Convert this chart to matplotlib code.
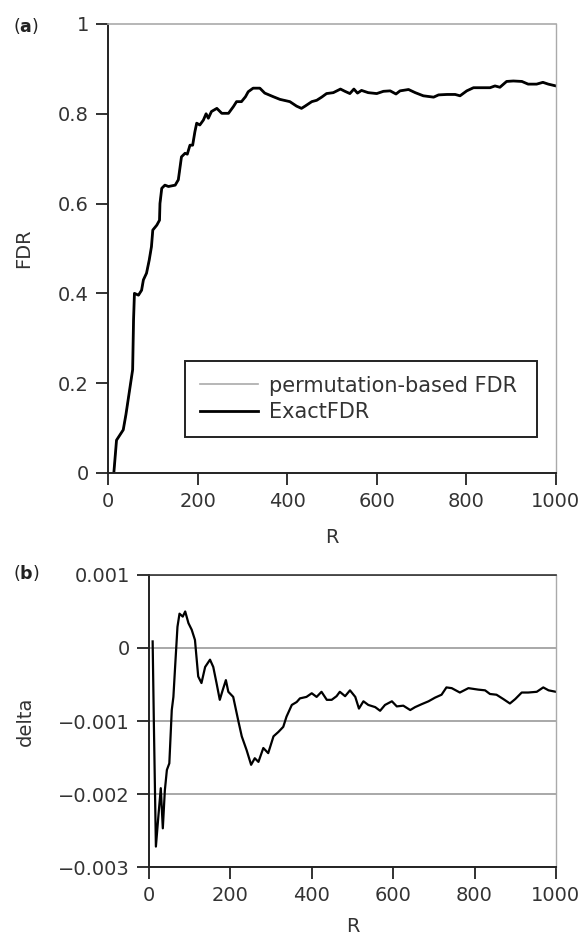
import matplotlib.pyplot as plt

# (a) FDR versus R
r_fdr = [13, 19, 34, 40, 49, 55, 57, 59, 68, 75, 79, 86, 92, 97, 100, 109, 115,
         116, 120, 127, 135, 150, 157, 164, 172, 177, 183, 189, 194, 198, 205,
         213, 219, 224, 231, 243, 254, 269, 280, 287, 298, 307, 313, 324, 339,
         350, 369, 384, 406, 421, 432, 440, 455, 466, 477, 488, 503, 519, 529,
         540, 549, 557, 566, 581, 600, 615, 630, 643, 652, 671, 686, 704, 727,
         738, 757, 775, 786, 801, 816, 838, 853, 864, 875, 890, 905, 924, 938,
         957, 971, 983, 1000]
exact_fdr = [0.0, 0.073, 0.096, 0.13, 0.19, 0.23, 0.34, 0.40, 0.396, 0.407,
             0.43, 0.445, 0.474, 0.504, 0.541, 0.552, 0.563, 0.60, 0.634, 0.641,
             0.638, 0.641, 0.653, 0.704, 0.712, 0.71, 0.73, 0.73, 0.76, 0.779,
             0.775, 0.786, 0.80, 0.79, 0.805, 0.812, 0.801, 0.801, 0.816, 0.827,
             0.827, 0.838, 0.849, 0.857, 0.857, 0.846, 0.838, 0.832, 0.827,
             0.817, 0.812, 0.817, 0.827, 0.83, 0.837, 0.845, 0.847, 0.855, 0.85,
             0.845, 0.855, 0.846, 0.852, 0.847, 0.845, 0.85, 0.851, 0.844, 0.851,
             0.854, 0.847, 0.84, 0.837, 0.842, 0.843, 0.843, 0.84, 0.851, 0.858,
             0.858, 0.858, 0.862, 0.859, 0.872, 0.873, 0.872, 0.866, 0.866, 0.87,
             0.866, 0.862]
# permutation-based FDR lies under ExactFDR at this scale
perm_fdr = exact_fdr

# (b) delta versus R
r_delta = [9, 12, 17, 23, 29, 34, 39, 44, 50, 56, 60, 64, 70, 75, 83, 89, 97,
           105, 113, 121, 129, 138, 150, 158, 166, 174, 181, 189, 195, 207, 220,
           228, 240, 251, 260, 269, 281, 293, 306, 318, 330, 338, 351, 363, 371,
           387, 400, 412, 424, 437, 449, 461, 469, 482, 494, 507, 516, 527, 539,
           556, 568, 580, 597, 609, 625, 642, 654, 670, 687, 703, 719, 731, 744,
           764, 785, 809, 826, 838, 854, 871, 887, 900, 916, 932, 953, 969, 982,
           1000]
delta = [0.00009, -0.00103, -0.00272, -0.00231, -0.00192, -0.00247, -0.00195,
         -0.00167, -0.00158, -0.00085, -0.00067, -0.00028, 0.00029, 0.00047,
         0.00043, 0.0005, 0.00034, 0.00025, 0.00011, -0.00039, -0.00048,
         -0.00026, -0.00016, -0.00026, -0.00048, -0.00071, -0.00058, -0.00044,
         -0.0006, -0.00067, -0.00101, -0.00121, -0.0014, -0.0016, -0.00151,
         -0.00156, -0.00137, -0.00144, -0.00121, -0.00115, -0.00108, -0.00094,
         -0.00078, -0.00074, -0.00069, -0.00067, -0.00062, -0.00067, -0.0006,
         -0.00071, -0.00071, -0.00066, -0.0006, -0.00066, -0.00058, -0.00067,
         -0.00083, -0.00073, -0.00078, -0.00081, -0.00086, -0.00078, -0.00073,
         -0.0008, -0.00079, -0.00085, -0.00081, -0.00077, -0.00073, -0.00068,
         -0.00064, -0.00054, -0.00055, -0.00061, -0.00055, -0.00057, -0.00058,
         -0.00063, -0.00064, -0.0007, -0.00076, -0.0007, -0.00061, -0.00061,
         -0.0006, -0.00054, -0.00058, -0.0006]

fdr_ticks = [0, 0.2, 0.4, 0.6, 0.8, 1]
fdr_labels = ['0', '0.2', '0.4', '0.6', '0.8', '1']
delta_ticks = [0.001, 0, -0.001, -0.002, -0.003]
delta_labels = ['0.001', '0', '\u22120.001', '\u22120.002', '\u22120.003']
r_ticks = [0, 200, 400, 600, 800, 1000]

plt.rcParams['font.family'] = 'DejaVu Sans'
plt.rcParams['mathtext.fontset'] = 'dejavusans'
txt_col = '#333333'
fs = 14

fig = plt.figure(figsize=(5.87, 9.36), dpi=100)
ax1 = fig.add_axes([0.184, 0.4947, 0.763, 0.4797])
ax2 = fig.add_axes([0.2538, 0.0737, 0.6932, 0.312])


def style_axes(ax, top_col):
    for side in ['left', 'bottom']:
        ax.spines[side].set_linewidth(1.4)
        ax.spines[side].set_color('#222222')
    ax.spines['top'].set_color(top_col)
    ax.spines['top'].set_linewidth(1.2)
    ax.spines['right'].set_color('#aaaaaa')
    ax.spines['right'].set_linewidth(1.0)
    ax.tick_params(direction='out', length=8.6, width=1.3, color='#222222',
                   labelsize=fs, labelcolor=txt_col, pad=5, top=False, right=False)


# top panel
ax1.plot(r_fdr, perm_fdr, color='#aaaaaa', linewidth=1.2, label='permutation-based FDR')
ax1.plot(r_fdr, exact_fdr, color='black', linewidth=2.0, label='ExactFDR')
ax1.set_xlim(0, 1000)
ax1.set_ylim(0, 1)
ax1.set_xticks(r_ticks)
ax1.set_yticks(fdr_ticks)
ax1.set_yticklabels(fdr_labels)
style_axes(ax1, '#aaaaaa')
ax1.set_xlabel('R', fontsize=fs, color=txt_col)
ax1.set_ylabel('FDR', fontsize=fs, color=txt_col)
ax1.xaxis.set_label_coords(0.5, -0.1225)
ax1.yaxis.set_label_coords(-0.167, 0.5)
leg = ax1.legend(loc='lower left', bbox_to_anchor=(0.172, 0.08, 0.786, 0.167),
                 mode='expand', fancybox=False, framealpha=1, fontsize=15,
                 handlelength=2.8, borderpad=0.72, labelspacing=0.3,
                 handletextpad=0.5, borderaxespad=0)
leg.get_frame().set_edgecolor('#222222')
leg.get_frame().set_linewidth(1.4)
for t in leg.get_texts():
    t.set_color(txt_col)

# bottom panel
ax2.set_axisbelow(True)
ax2.grid(axis='y', color='#999999', linewidth=1.2)
ax2.plot(r_delta, delta, color='black', linewidth=1.6)
ax2.set_xlim(0, 1000)
ax2.set_ylim(-0.003, 0.001)
ax2.set_xticks(r_ticks)
ax2.set_yticks(delta_ticks)
ax2.set_yticklabels(delta_labels)
style_axes(ax2, '#333333')
ax2.set_xlabel('R', fontsize=fs, color=txt_col)
ax2.set_ylabel('delta', fontsize=fs, color=txt_col)
ax2.xaxis.set_label_coords(0.5, -0.172)
ax2.yaxis.set_label_coords(-0.28, 0.5)

fig.text(0.022, 0.972, r'($\mathbf{a}$)', fontsize=12.5, color='#222222', va='center')
fig.text(0.022, 0.388, r'($\mathbf{b}$)', fontsize=12.5, color='#222222', va='center')

fig.savefig('out.png', dpi=100)
